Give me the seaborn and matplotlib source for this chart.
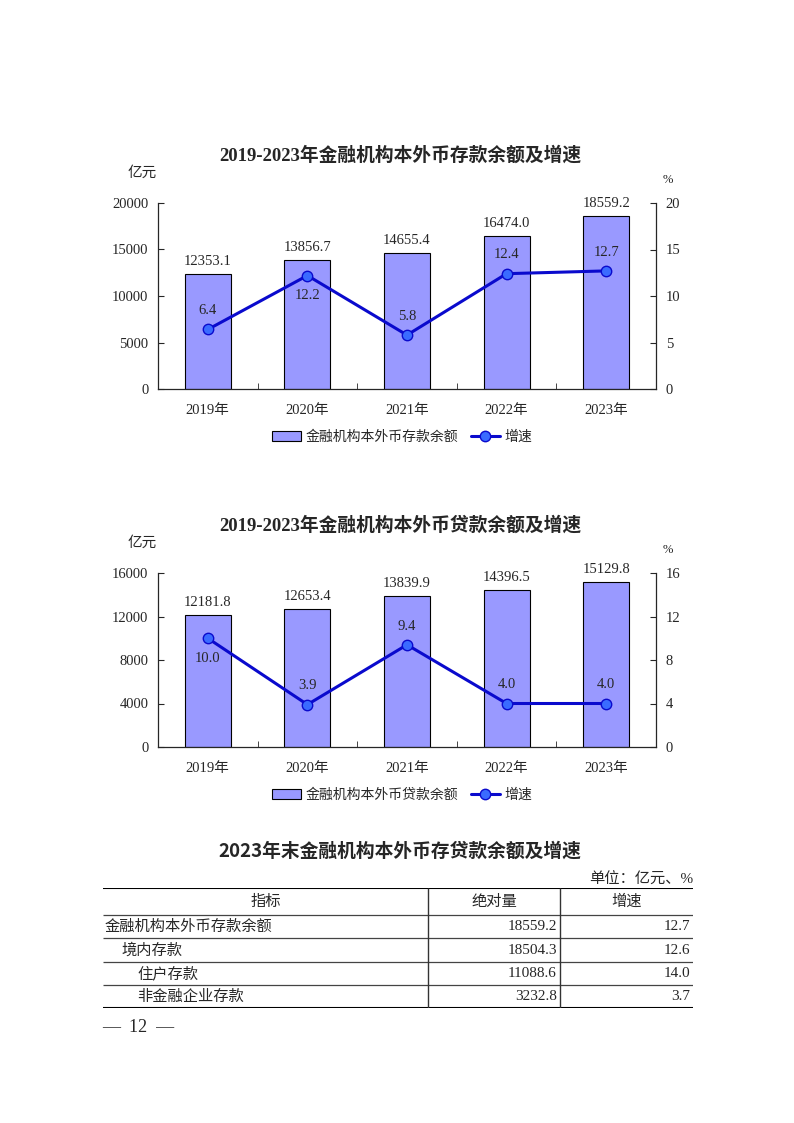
import numpy as np
import pandas as pd
import seaborn as sns
import matplotlib.pyplot as plt

years = ['2019年', '2020年', '2021年', '2022年', '2023年']

deposit_name = '金融机构本外币存款余额'
deposit_amount = [12353.1, 13856.7, 14655.4, 16474.0, 18559.2]
deposit_rate = [6.4, 12.2, 5.8, 12.4, 12.7]

loan_name = '金融机构本外币贷款余额'
loan_amount = [12181.8, 12653.4, 13839.9, 14396.5, 15129.8]
loan_rate = [10.0, 3.9, 9.4, 4.0, 4.0]

table_header = ['指标', '绝对量', '增速']
table_items = ['金融机构本外币存款余额', '境内存款', '住户存款', '非金融企业存款']
table_level = [0, 1, 2, 2]
table_amount = [18559.2, 18504.3, 11088.6, 3232.8]
table_rate = [12.7, 12.6, 14.0, 3.7]

BAR_COLOR = '#9999FF'
LINE_COLOR = '#0A0ACD'
MARKER_COLOR = '#3A6BFF'

sns.set_style('ticks')
plt.rcParams['font.family'] = ['Liberation Serif', 'Noto Sans CJK SC']
plt.rcParams['axes.linewidth'] = 0.9

W, H = 794, 1123
fig = plt.figure(figsize=(W / 100, H / 100), dpi=100)


def fx(x):
    return x / W


def fy(y):
    return 1 - y / H


def draw_chart(top, bottom, title, name, amounts, rates, ymax, ystep,
               rmax, rstep, below):
    ax = fig.add_axes([fx(158), fy(bottom), fx(656) - fx(158), (bottom - top) / H])
    df = pd.DataFrame({'year': years, 'amount': amounts, 'rate': rates})
    sns.barplot(data=df, x='year', y='amount', ax=ax, width=0.46,
                color=BAR_COLOR, saturation=1, edgecolor='black',
                linewidth=0.8, label=name)
    ax.set_ylim(0, ymax)
    ax.set_yticks(np.arange(0, ymax + 1, ystep))
    ax.set_xlim(-0.5, 4.5)
    ax.set_xlabel('')
    ax.set_ylabel('')
    ax.tick_params(axis='y', direction='in', length=4, pad=7, labelsize=10.5)
    ax.tick_params(axis='x', which='major', length=0, pad=11, labelsize=10.5)
    ax.set_xticks([0.5, 1.5, 2.5, 3.5], minor=True)
    ax.tick_params(axis='x', which='minor', direction='in', length=4)
    ax.spines['top'].set_visible(False)
    ax.spines['right'].set_visible(False)
    for i, v in enumerate(amounts):
        ax.annotate(f'{v:.1f}', (i, v), xytext=(0, 9), textcoords='offset points',
                    ha='center', va='center', fontsize=10.5)

    ax2 = ax.twinx()
    sns.lineplot(x=np.arange(len(rates)), y=rates, ax=ax2, color=LINE_COLOR,
                 linewidth=2.2, marker='o', markersize=7.5,
                 markerfacecolor=MARKER_COLOR, markeredgecolor=LINE_COLOR,
                 markeredgewidth=1.0, label='增速')
    ax2.set_ylim(0, rmax)
    ax2.set_yticks(np.arange(0, rmax + 1, rstep))
    ax2.set_ylabel('')
    ax2.tick_params(axis='y', direction='in', length=4, pad=7, labelsize=10.5)
    for s in ['top', 'left', 'bottom']:
        ax2.spines[s].set_visible(False)
    ax.set_xlim(-0.5, 4.5)
    for i, v in enumerate(rates):
        off = -14.5 if i in below else 13.5
        ax2.annotate(f'{v:.1f}', (i, v), xytext=(0, off), textcoords='offset points',
                     ha='center', va='center', fontsize=10.5)

    h1, l1 = ax.get_legend_handles_labels()
    h2, l2 = ax2.get_legend_handles_labels()
    for a in (ax, ax2):
        if a.get_legend() is not None:
            a.get_legend().remove()
    fig.legend(h1 + h2, l1 + l2, loc='center', ncol=2, frameon=False,
               bbox_to_anchor=(fx(402), fy(bottom + 48)), fontsize=10,
               handlelength=2.1, handletextpad=0.3, columnspacing=0.9)

    fig.text(fx(400), fy(top - 48), title, ha='center', va='center',
             fontsize=13.5, fontweight='bold')
    fig.text(fx(142), fy(top - 30), '亿元', ha='center', va='center', fontsize=10.5)
    fig.text(fx(668), fy(top - 23), '%', ha='center', va='center', fontsize=9)


draw_chart(203, 389, '2019-2023年金融机构本外币存款余额及增速', deposit_name,
           deposit_amount, deposit_rate, 20000, 5000, 20, 5, below=[1])
draw_chart(573, 747, '2019-2023年金融机构本外币贷款余额及增速', loan_name,
           loan_amount, loan_rate, 16000, 4000, 16, 4, below=[0])

# table
fig.text(fx(400), fy(851), '2023年末金融机构本外币存贷款余额及增速', ha='center',
         va='center', fontsize=13.5, fontweight='bold',
         family=['Noto Sans CJK SC'])
fig.text(fx(693), fy(880), '单位：亿元、%', ha='right', va='center', fontsize=11)

left, right = 103, 693
col1, col2 = 428, 560
rows = [888, 915, 938, 962, 985, 1008]
tab = fig.add_axes([fx(left), fy(rows[-1]), fx(right) - fx(left), (rows[-1] - rows[0]) / H])
tab.set_xlim(left, right)
tab.set_ylim(rows[-1], rows[0])
tab.axis('off')
tab.hlines([rows[0], rows[-1]], left, right, color='black', linewidth=1.5)
tab.hlines(rows[1:-1], left, right, color='#444444', linewidth=0.9)
tab.vlines([col1, col2], rows[0], rows[-1], color='#333333', linewidth=1.0)

centers = [(rows[k] + rows[k + 1]) / 2 for k in range(len(rows) - 1)]
tab.text((left + col1) / 2, centers[0], table_header[0], ha='center', va='center', fontsize=11)
tab.text((col1 + col2) / 2, centers[0], table_header[1], ha='center', va='center', fontsize=11)
tab.text((col2 + right) / 2, centers[0], table_header[2], ha='center', va='center', fontsize=11)
for k, item in enumerate(table_items):
    y = centers[k + 1]
    tab.text(left + 2 + 16 * table_level[k], y, item, ha='left', va='center', fontsize=11)
    tab.text(col2 - 3, y, f'{table_amount[k]:.1f}', ha='right', va='center', fontsize=11)
    tab.text(right - 3, y, f'{table_rate[k]:.1f}', ha='right', va='center', fontsize=11)

fig.text(fx(102), fy(1027), '—  12  —', ha='left', va='center', fontsize=13)

fig.savefig('out.png', dpi=100)
